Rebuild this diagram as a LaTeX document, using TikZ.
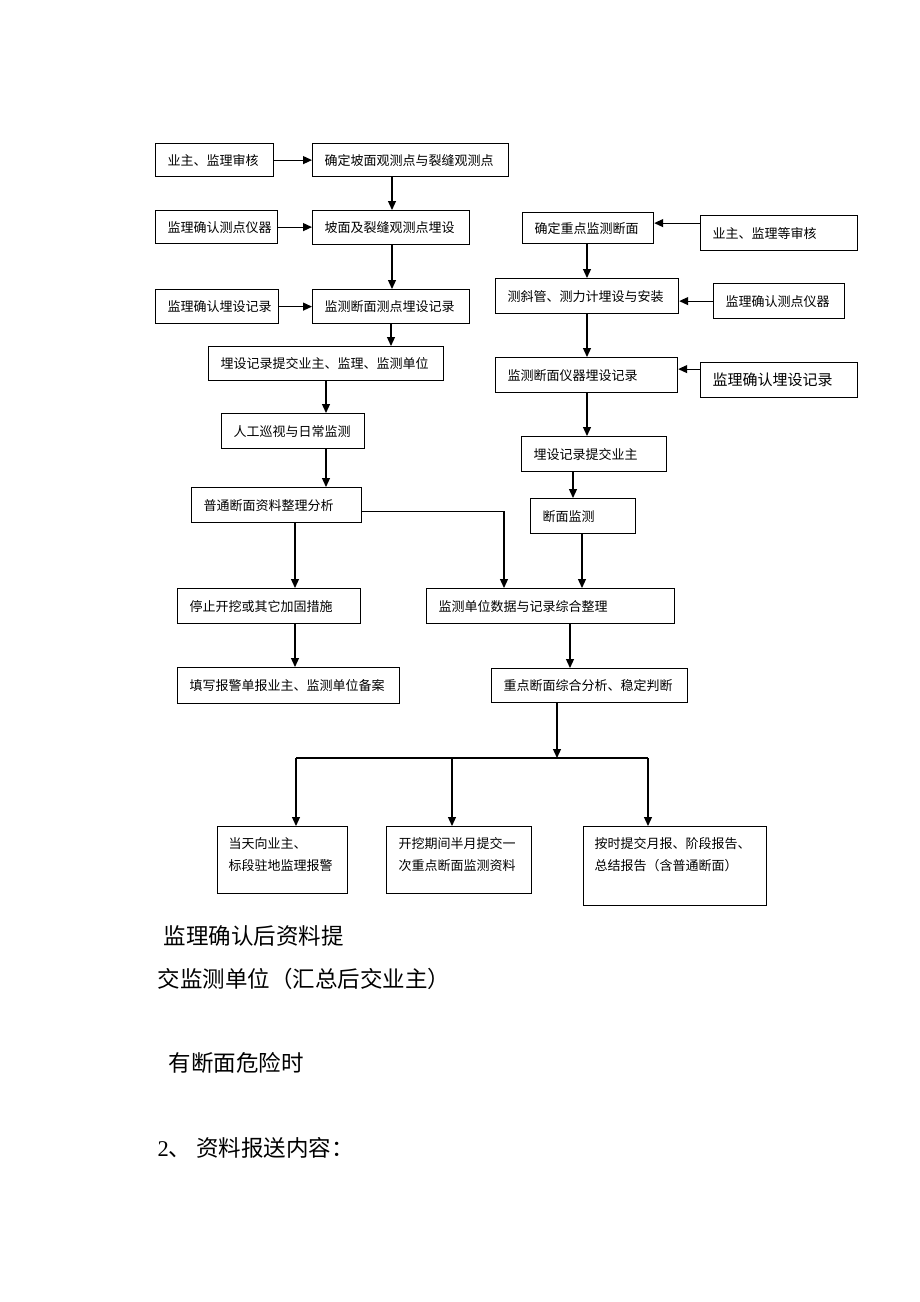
\documentclass[tikz,border=0pt]{standalone}
\usepackage{fontspec}
\setmainfont{Liberation Serif}
\newfontfamily\cjk{Noto Sans CJK SC}
\usetikzlibrary{arrows.meta}

\begin{document}
\begin{tikzpicture}[x=1pt,y=-1pt,line width=1.2pt,font=\cjk\fontsize{13}{16}\selectfont]
\tikzset{
% flow chart boxes: text starts 12pt from the left edge
box/.style={draw,anchor=north west,align=left,inner xsep=12pt,inner ysep=0pt,minimum height=#1pt},
box/.default=35,
arr/.style={-{Triangle[length=9pt,width=8pt]}},
boxtext/.style={anchor=north west,align=left,inner sep=0pt,font=\cjk\fontsize{13}{22}\selectfont},
note/.style={anchor=west,inner sep=0pt,font=\cjk\fontsize{22.5}{27}\selectfont}
}
\useasboundingbox (0,0) rectangle (920,1302);

% left column
\node (a1)[box=33,text width=94pt] at (155,143) {业主、监理审核};
\node (a2)[box=33,text width=172pt] at (312,143) {确定坡面观测点与裂缝观测点};
\node (a3)[box=33,text width=98pt] at (155,210) {监理确认测点仪器};
\node (a4)[box=34,text width=133pt] at (312,210) {坡面及裂缝观测点埋设};
\node (a5)[box=34,text width=99pt] at (155,289) {监理确认埋设记录};
\node (a6)[box=34,text width=133pt] at (312,289) {监测断面测点埋设记录};
\node (a7)[box=34,text width=211pt] at (208,346) {埋设记录提交业主、监理、监测单位};
\node (a8)[box,text width=119pt] at (221,413) {人工巡视与日常监测};
\node (a9)[box,text width=146pt] at (191,487) {普通断面资料整理分析};
\node (a10)[box,text width=159pt] at (177,588) {停止开挖或其它加固措施};
\node (a11)[box=36,text width=198pt] at (177,667) {填写报警单报业主、监测单位备案};

% right column
\node (b1)[box,text width=133pt] at (700,215) {业主、监理等审核};
\node (b2)[box=31,text width=107pt] at (522,212) {确定重点监测断面};
\node (b3)[box,text width=159pt] at (495,278) {测斜管、测力计埋设与安装};
\node (b4)[box,text width=107pt] at (713,283) {监理确认测点仪器};
\node (b5)[box,text width=158pt] at (495,357) {监测断面仪器埋设记录};
\node (b6)[box,text width=133pt,font=\cjk\fontsize{15}{18}\selectfont] at (700,362) {监理确认埋设记录};
\node (b7)[box,text width=121pt] at (521,436) {埋设记录提交业主};
\node (b8)[box,text width=81pt] at (530,498) {断面监测};
\node (c1)[box,text width=224pt] at (426,588) {监测单位数据与记录综合整理};
\node (c2)[box=34,text width=172pt] at (491,668) {重点断面综合分析、稳定判断};

% reports
\node (d1)[box=67,minimum width=130pt] at (217,826) {};
\node (d2)[box=67,minimum width=145pt] at (386,826) {};
\node (d3)[box=79,minimum width=183pt] at (583,826) {};
\node (d1t)[boxtext] at ([xshift=11pt,yshift=-11pt]d1.north west) {当天向业主、\\标段驻地监理报警};
\node (d2t)[boxtext] at ([xshift=12pt,yshift=-11pt]d2.north west) {开挖期间半月提交一\\次重点断面监测资料};
\node (d3t)[boxtext] at ([xshift=11pt,yshift=-11pt]d3.north west) {按时提交月报、阶段报告、\\总结报告（含普通断面）};

% arrows, left
\draw[arr] (a1.east) -- (a2.west);
\draw[arr] (a3.east) -- (a3.east -| a4.west);
\draw[arr] (a5.east) -- (a6.west);
\draw[arr] ([xshift=80pt]a2.south west) -- ([xshift=80pt]a4.north west);
\draw[arr] ([xshift=80pt]a4.south west) -- ([xshift=80pt]a6.north west);
\draw[arr] ([xshift=79pt]a6.south west) -- ([xshift=183pt]a7.north west);
\draw[arr] ([xshift=118pt]a7.south west) -- ([xshift=105pt]a8.north west);
\draw[arr] ([xshift=105pt]a8.south west) -- ([xshift=135pt]a9.north west);
\draw[arr] ([xshift=104pt]a9.south west) -- ([xshift=118pt]a10.north west);
\draw[arr] ([xshift=118pt]a10.south west) -- ([xshift=118pt]a11.north west);
\draw[arr] ([yshift=-6pt]a9.east) -| ([xshift=78pt]c1.north west);

% arrows, right
\draw[arr] ([yshift=10pt]b1.west) -- ([yshift=10pt]b1.west -| b2.east);
\draw[arr] (b4.west) -- (b4.west -| b3.east);
\draw[arr] ([yshift=11pt]b6.west) -- ([yshift=11pt]b6.west -| b5.east);
\draw[arr] ([xshift=65pt]b2.south west) -- ([xshift=92pt]b3.north west);
\draw[arr] ([xshift=92pt]b3.south west) -- ([xshift=92pt]b5.north west);
\draw[arr] ([xshift=92pt]b5.south west) -- ([xshift=66pt]b7.north west);
\draw[arr] ([xshift=52pt]b7.south west) -- ([xshift=43pt]b8.north west);
\draw[arr] ([xshift=52pt]b8.south west) -- ([xshift=156pt]c1.north west);
\draw[arr] ([xshift=144pt]c1.south west) -- ([xshift=79pt]c2.north west);

% split to the reports
\coordinate (jl) at (296,758);
\coordinate (jm) at (452,758);
\coordinate (jr) at (648,758);
\draw[arr] ([xshift=66pt]c2.south west) -- ([xshift=66pt]c2.south west |- jl);
\draw (jl) -- (jr);
\draw[arr] (jl) -- (jl |- d1.north);
\draw[arr] (jm) -- (jm |- d2.north);
\draw[arr] (jr) -- (jr |- d3.north);

% text under the chart
\node (t1)[note] at (163,936) {监理确认后资料提};
\node (t2)[note] at (157,979) {交监测单位（汇总后交业主）};
\node (t3)[note] at (168,1063) {有断面危险时};
\node (t4)[note] at (157,1148) {{\rmfamily 2}、 资料报送内容：};
\end{tikzpicture}
\end{document}
